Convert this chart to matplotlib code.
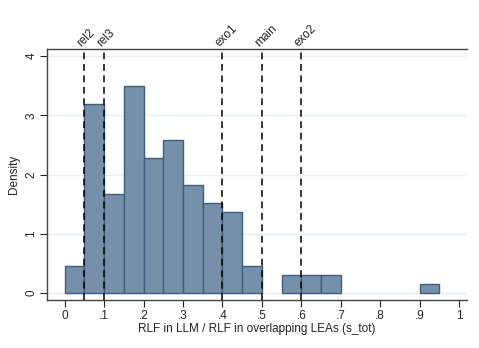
import numpy as np
import matplotlib.pyplot as plt

plt.rcParams['font.family'] = ['Liberation Sans', 'DejaVu Sans']

# histogram bins (width .05) and densities
bin_left = [0.00, 0.05, 0.10, 0.15, 0.20, 0.25, 0.30, 0.35, 0.40, 0.45,
            0.50, 0.55, 0.60, 0.65, 0.70, 0.75, 0.80, 0.85, 0.90]
density = [0.455, 3.19, 1.67, 3.50, 2.28, 2.58, 1.82, 1.52, 1.365, 0.455,
           0.0, 0.30, 0.30, 0.30, 0.0, 0.0, 0.0, 0.0, 0.152]
bin_width = 0.05

# reference lines
ref_x = [0.05, 0.10, 0.40, 0.50, 0.60]
ref_labels = ['rel2', 'rel3', 'exo1', 'main', 'exo2']

xticks = [0, 0.1, 0.2, 0.3, 0.4, 0.5, 0.6, 0.7, 0.8, 0.9, 1.0]
xticklabels = ['0', '.1', '.2', '.3', '.4', '.5', '.6', '.7', '.8', '.9', '1']
yticks = [0, 1, 2, 3, 4]

fig = plt.figure(figsize=(4.79, 3.48), dpi=100)
ax = fig.add_axes([0.098, 0.138, 0.877, 0.721])

for y in yticks:
    ax.axhline(y, color='#e6eff1', lw=1.0, zorder=0)

nz = [i for i, d in enumerate(density) if d > 0]
ax.bar([bin_left[i] for i in nz], [density[i] for i in nz], width=bin_width,
       align='edge', color='#7690a9', edgecolor='#3b5d80', linewidth=1.0,
       zorder=2)

for xv, lab in zip(ref_x, ref_labels):
    ax.axvline(xv, color='black', lw=1.1, ls=(0, (4.5, 3)), zorder=3)
    ax.text(xv - 0.002, 4.125, lab, rotation=45, rotation_mode='anchor',
            ha='left', va='bottom', fontsize=8.5, color='#222222')

ax.set_xlim(-0.045, 1.02)
ax.set_ylim(-0.118, 4.118)
ax.set_xticks(xticks)
ax.set_xticklabels(xticklabels)
ax.set_yticks(yticks)
ax.set_yticklabels([str(v) for v in yticks], rotation=90, va='center')
ax.tick_params(axis='both', labelsize=8.5, length=5, width=0.8,
               color='#222222', labelcolor='#222222', pad=2)

ax.spines['right'].set_visible(False)
for s in ['left', 'bottom', 'top']:
    ax.spines[s].set_color('#444444')
    ax.spines[s].set_linewidth(1.0)

ax.set_xlabel('RLF in LLM / RLF in overlapping LEAs (s_tot)', fontsize=8.5,
              color='#222222', labelpad=1)
ax.set_ylabel('Density', fontsize=8.5, color='#222222', labelpad=4)

fig.savefig('out.png', dpi=100, facecolor='white')
